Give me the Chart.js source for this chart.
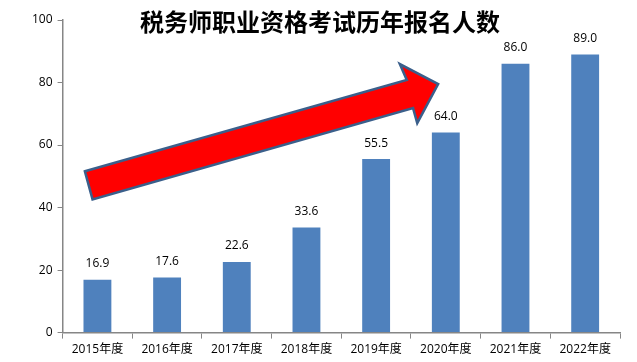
<!DOCTYPE html>
<html>
<head>
<meta charset="utf-8">
<script src="https://cdn.jsdelivr.net/npm/chart.js@4/dist/chart.umd.min.js"></script>
<style>
  html, body { margin: 0; padding: 0; background: #fff; }
  #wrap { width: 637px; height: 362px; position: relative; }
</style>
</head>
<body>
<div id="wrap"><canvas id="c"></canvas></div>
<script>
// 数据
const years  = ['2015年度', '2016年度', '2017年度', '2018年度', '2019年度', '2020年度', '2021年度', '2022年度'];
const counts = [16.9, 17.6, 22.6, 33.6, 55.5, 64.0, 86.0, 89.0];
const yTicks = [0, 20, 40, 60, 80, 100];
const titleText = '税务师职业资格考试历年报名人数';

// 趋势箭头 (类别索引, 数值)
const arrowX = [-0.18, 4.44, 4.34, 4.89, 4.59, 4.53, -0.07];
const arrowY = [51.6, 80.8, 85.9, 79.5, 67.0, 71.8, 42.6];

const barColor = '#4f81bd';
const axisColor = '#868686';

// 柱顶数值
const valueLabels = {
    id: 'valueLabels',
    afterDatasetsDraw(chart) {
        const { ctx } = chart;
        const meta = chart.getDatasetMeta(0);
        ctx.save();
        ctx.font = '12px "Open Sans", "DejaVu Sans", sans-serif';
        ctx.fillStyle = '#000';
        ctx.textAlign = 'center';
        ctx.textBaseline = 'middle';
        meta.data.forEach((bar, i) => {
            ctx.fillText(counts[i].toFixed(1), bar.x, bar.y - 16);
        });
        ctx.restore();
    }
};

// 红色箭头
const trendArrow = {
    id: 'trendArrow',
    afterDatasetsDraw(chart) {
        const { ctx, scales: { x, y } } = chart;
        const xs = x.getPixelForValue(0), step = x.getPixelForValue(1) - xs;
        ctx.save();
        ctx.beginPath();
        arrowX.forEach((ax, i) => {
            const px = xs + ax * step, py = y.getPixelForValue(arrowY[i]);
            i === 0 ? ctx.moveTo(px, py) : ctx.lineTo(px, py);
        });
        ctx.closePath();
        ctx.fillStyle = '#ff0000';
        ctx.fill();
        ctx.lineWidth = 2.5;
        ctx.lineJoin = 'miter';
        ctx.strokeStyle = '#3a5f8b';
        ctx.stroke();
        ctx.restore();
    }
};

// 标题 (压在绘图区上方)
const overTitle = {
    id: 'overTitle',
    afterDraw(chart) {
        const { ctx } = chart;
        ctx.save();
        ctx.font = 'bold 24px "Noto Sans CJK SC", sans-serif';
        ctx.fillStyle = '#000';
        ctx.textAlign = 'center';
        ctx.textBaseline = 'middle';
        ctx.fillText(titleText, 320, 22);
        ctx.restore();
    }
};

new Chart(document.getElementById('c'), {
    type: 'bar',
    data: {
        labels: years,
        datasets: [{
            data: counts,
            backgroundColor: barColor,
            barPercentage: 0.4,
            categoryPercentage: 1.0,
        }]
    },
    options: {
        responsive: true, maintainAspectRatio: false, animation: false,
        layout: { padding: { top: 20, right: 17, bottom: 1, left: 27 } },
        plugins: { legend: { display: false }, tooltip: { enabled: false }, title: { display: false } },
        scales: {
            x: {
                grid: { display: true, offset: true, drawOnChartArea: false, tickLength: 6, color: axisColor },
                border: { color: axisColor, width: 1.5 },
                ticks: { color: '#000', font: { size: 12, family: '"Open Sans", "Noto Sans CJK SC", sans-serif' }, padding: 4, maxRotation: 0 },
            },
            y: {
                min: 0, max: 100,
                afterBuildTicks: axis => { axis.ticks = yTicks.map(v => ({ value: v })); },
                grid: { display: true, drawOnChartArea: false, tickLength: 5, color: axisColor },
                border: { color: axisColor, width: 1.5 },
                ticks: { color: '#000', font: { size: 12, family: '"Open Sans", sans-serif' }, padding: 5 },
            }
        }
    },
    plugins: [valueLabels, trendArrow, overTitle]
});
</script>
</body>
</html>
